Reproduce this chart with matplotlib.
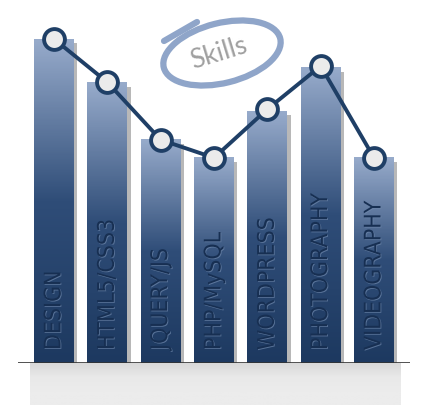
import numpy as np
import matplotlib
matplotlib.use("Agg")
from matplotlib import pyplot as plt
from matplotlib.colors import LinearSegmentedColormap
from matplotlib.patches import Ellipse, Rectangle
import matplotlib.patheffects as pe

skills = ["DESIGN", "HTML5/CSS3", "JQUERY/JS", "PHP/MySQL", "WORDPRESS", "PHOTOGRAPHY", "VIDEOGRAPHY"]
bar_values = [90, 78, 62, 57, 70, 82, 57]
line_values = [90, 78, 62, 57, 70.5, 82.5, 57]

navy = "#1f3f66"
bar_cmap = LinearSegmentedColormap.from_list("bars", ["#1d3960", "#2f4d78", "#97abcb"])

fig = plt.figure(figsize=(4.4, 4.05), dpi=100)
fig.patch.set_facecolor("white")

# grey floor under the chart
floor = fig.add_axes([30 / 440, 0, 370 / 440, 42 / 405])
floor_grad = np.linspace(0, 1, 60).reshape(-1, 1)
floor.imshow(floor_grad, cmap=LinearSegmentedColormap.from_list("fl", ["#d9d9d9", "#e9e9e9", "#ececec", "#ececec"]),
             aspect="auto", extent=(0, 1, 0, 1), origin="upper")
floor.axis("off")

ax = fig.add_axes([18 / 440, 42 / 405, 392 / 440, 360 / 405])
ax.axis("off")

w = 0.75
grad = np.linspace(0, 1, 200).reshape(-1, 1)
for i, v in enumerate(bar_values):
    # shadow on the right side
    ax.add_patch(Rectangle((i + w / 2, 0), 0.06, v - 1.2, color="#b8b8b8", lw=0, zorder=1))
    ax.imshow(grad, cmap=bar_cmap, extent=(i - w / 2, i + w / 2, 0, v),
              aspect="auto", origin="lower", zorder=2)
    ax.text(i, 3.6, skills[i], rotation=90, ha="center", va="bottom",
            fontsize=16.5, fontstretch="condensed", color="#172f52", family="DejaVu Sans", zorder=3,
            path_effects=[pe.withSimplePatchShadow(offset=(0.6, -0.6), shadow_rgbFace="#7089ad", alpha=0.7)])

ax.set_xlim(-0.675, 6.675)
ax.set_ylim(0, 100)
ax.axhline(0, color="#333333", lw=1.2, zorder=4)

x = np.arange(len(line_values))
ax.plot(x, line_values, color=navy, lw=2.8, marker="o", ms=15, mfc="#ebebeb",
        mec=navy, mew=2.8, zorder=5, clip_on=False)

# "Skills" badge
over = fig.add_axes([0, 0, 1, 1])
over.set_xlim(0, 440)
over.set_ylim(405, 0)
over.axis("off")
over.add_patch(Ellipse((222, 53), 120, 60, angle=-14, fill=False, ec="#8fa5c9", lw=4.5))
over.plot([164, 197], [41, 22], color="#8fa5c9", lw=4.5, solid_capstyle="round")
over.text(219, 53, "Skills", rotation=17, ha="center", va="center", fontsize=19,
          color="#a0a0a0", family="Lato")

fig.savefig("out.png", dpi=100)
